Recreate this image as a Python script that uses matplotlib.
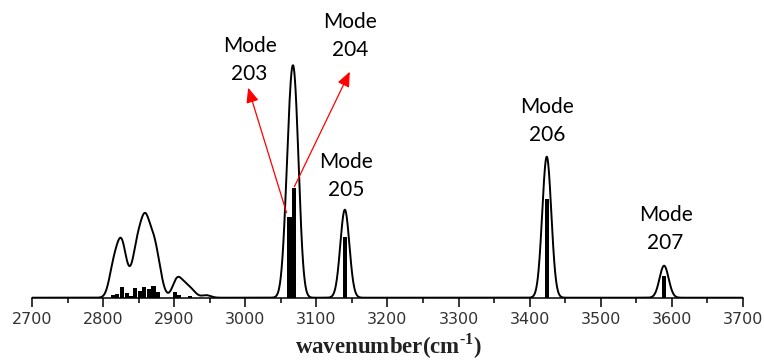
import numpy as np
import matplotlib.pyplot as plt
from matplotlib.ticker import MultipleLocator

plt.rcParams["mathtext.fontset"] = "custom"
plt.rcParams["mathtext.rm"] = "Liberation Serif:bold"
plt.rcParams["mathtext.bf"] = "Liberation Serif:bold"

# calculated stick spectrum (frequency, intensity)
stick_freq = [2814, 2820, 2827, 2834, 2839, 2845, 2852, 2858, 2865, 2871, 2877,
              2901, 2907, 2922, 3062, 3069, 3140, 3424, 3589]
stick_int = [3, 4, 11, 5, 2, 10, 7, 11, 9, 12, 6,
             6, 3, 2, 81, 110, 61, 99, 22]

# broadened envelope: band centre, peak height, FWHM
band_center = [2815, 2826, 2837, 2848, 2859, 2870, 2878, 2904, 2915, 2925, 2945,
               3062, 3070, 3140, 3424, 3589]
band_height = [30, 50, 10, 45, 65, 42, 20, 18, 10, 6, 2.5,
               119, 162, 88, 141, 32]
band_fwhm = [15] * 16

# mode labels: text, x, y of label baseline (bottom line)
mode_names = ["Mode\n203", "Mode\n204", "Mode\n205", "Mode\n206", "Mode\n207"]
mode_x = [3006, 3147, 3142, 3425, 3591]
mode_y = [214, 238, 98, 153, 45]

# arrows for the two overlapping modes: start (stick top) -> tip
arrow_start = [(3058, 85), (3069, 111)]
arrow_tip = [(3004, 210), (3147, 226)]

fig = plt.figure(figsize=(7.64, 3.62), dpi=100)
ax = fig.add_axes([32 / 764, (362 - 297.7) / 362, (743 - 32) / 764, 297.7 / 362])

xs = np.linspace(2700, 3700, 4001)
env = np.zeros_like(xs)
for c, h, w in zip(band_center, band_height, band_fwhm):
    s = w / 2.3548
    env += h * np.exp(-(xs - c) ** 2 / (2 * s ** 2))
ax.plot(xs, env, color="black", lw=1.4, zorder=2)

ax.bar(stick_freq, stick_int, width=6, color="black", zorder=3)

for (x0, y0), (x1, y1) in zip(arrow_start, arrow_tip):
    ax.annotate("", xy=(x1, y1), xytext=(x0, y0),
                arrowprops=dict(arrowstyle="-|>,head_length=0.9,head_width=0.38",
                                color="red", lw=0.9, shrinkA=0, shrinkB=0))

for name, x, y in zip(mode_names, mode_x, mode_y):
    ax.text(x, y, name, ha="center", va="bottom", fontsize=15,
            family="Lato", linespacing=1.5)

ax.set_xlim(2700, 3700)
ax.set_ylim(0, 297.7)
ax.xaxis.set_major_locator(MultipleLocator(100))
ax.xaxis.set_minor_locator(MultipleLocator(50))
ax.tick_params(axis="x", which="major", length=6.5, width=1.1, direction="out",
               labelsize=11.5, pad=4, labelcolor="#333333")
ax.tick_params(axis="x", which="minor", length=3.3, width=1.1, direction="out")
ax.set_yticks([])
for side in ["left", "right", "top"]:
    ax.spines[side].set_visible(False)
ax.spines["bottom"].set_linewidth(1.1)
fig.text(388 / 764, (362 - 354) / 362, "wavenumber(cm$^{\\text{-1}}$)",
         family="Liberation Serif", fontweight="bold", fontsize=16.5,
         ha="center", va="baseline", color="#222222")

fig.savefig("out.png", dpi=100)
